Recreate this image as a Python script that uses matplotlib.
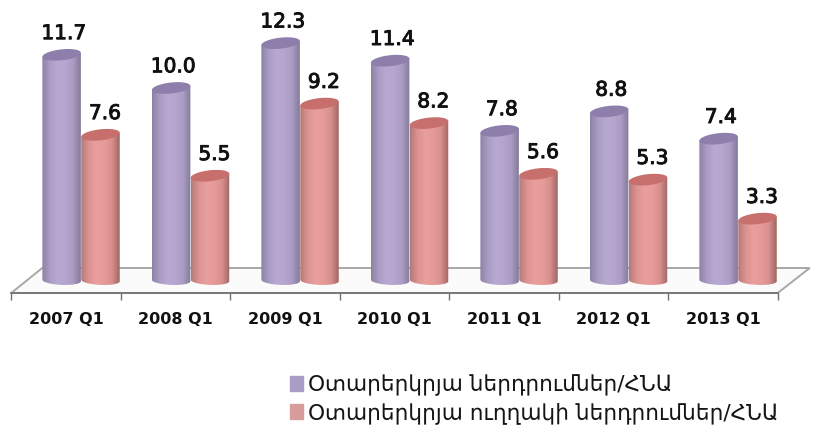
import numpy as np
import matplotlib
matplotlib.use('Agg')
import matplotlib.pyplot as plt
import matplotlib.patheffects as pe
from matplotlib.colors import LinearSegmentedColormap
from matplotlib.patches import Patch, Polygon

plt.rcParams['font.family'] = ['DejaVu Sans']

# data
periods = ['2007 Q1', '2008 Q1', '2009 Q1', '2010 Q1', '2011 Q1', '2012 Q1', '2013 Q1']
total = [11.7, 10.0, 12.3, 11.4, 7.8, 8.8, 7.4]
direct = [7.6, 5.5, 9.2, 8.2, 5.6, 5.3, 3.3]
names = ['Օտարերկրյա ներդրումներ/ՀՆԱ', 'Օտարերկրյա ուղղակի ներդրումներ/ՀՆԱ']

W, H = 817, 428
fig = plt.figure(figsize=(W / 100, H / 100), dpi=100)
ax = fig.add_axes([0, 0, 1, 1])

# one category = 109.5 px, one unit of value = 19.5 px
PX_X = 109.5
PX_Y = 19.5
xlim = (-66 / PX_X, (W - 66) / PX_X)
ylim = ((283 - H) / PX_Y, 283 / PX_Y)

bar_w = 38.5 / PX_X
a = bar_w / 2
b = 5.5 / PX_Y
tilt = 2.0 / PX_Y / a  # the ellipses lean up to the right
base = 2.5 / PX_Y


def cylinder(x, v, colors, top_color, zorder):
    ax.bar(x, v - base, bottom=base, width=bar_w, color='none', zorder=zorder)
    t = np.linspace(0, np.pi, 60)
    # body outline: lower half of the bottom ellipse, then up to the top
    bx = x + a * np.cos(t)
    by = base - 0.8 * b * np.sin(t) - 0.4 * tilt * a * np.cos(t)
    tx = x + a * np.cos(t)
    ty = v + tilt * a * np.cos(t)
    outline = np.column_stack([np.r_[bx[::-1], tx], np.r_[by[::-1], ty]])
    poly = Polygon(outline, closed=True, transform=ax.transData, fc='none', ec='none')
    ax.add_patch(poly)
    cmap = LinearSegmentedColormap.from_list('c', colors)
    grad = np.linspace(0, 1, 128).reshape(1, -1)
    im = ax.imshow(grad, cmap=cmap, aspect='auto', zorder=zorder,
                   extent=[x - a, x + a, base - 2 * b, v + 2 * b])
    im.set_clip_path(poly)
    t = np.linspace(0, 2 * np.pi, 80)
    ax.fill(x + a * np.cos(t), v + b * np.sin(t) + tilt * a * np.cos(t),
            color=top_color, lw=0, zorder=zorder + 0.1)


# floor of the 3d chart
floor_y = -10 / PX_Y
back_y = 15 / PX_Y
floor_x = [-0.5, -0.5 + 31 / PX_X, 6.5 + 32 / PX_X, 6.5]
floor_v = [floor_y, back_y, back_y, floor_y]
ax.fill(floor_x, floor_v, fc='#fbfbfb', ec='#a8a8a8', lw=1.4, zorder=1)

purple = ['#8d82a4', '#aa9cc3', '#b8a9d2', '#b6a6cf', '#ab9cc4', '#84799a']
pink = ['#b47a78', '#dc9391', '#e99f9d', '#e79b99', '#d88f8d', '#9f6563']
bold = [pe.withStroke(linewidth=0.7, foreground='#111111')]

for i in range(len(periods)):
    cylinder(i - 0.04, total[i], purple, '#8d7eab', 3)
    cylinder(i + 0.315, direct[i], pink, '#c66f6c', 4)
    ax.text(i - 0.04 + 0.02, total[i] + 0.6, '%.1f' % total[i], ha='center', va='bottom',
            fontsize=14.5, color='#111111', zorder=6, path_effects=bold)
    ax.text(i + 0.315 + 0.04, direct[i] + 0.6, '%.1f' % direct[i], ha='center', va='bottom',
            fontsize=14.5, color='#111111', zorder=6, path_effects=bold)

ax.set_xlim(xlim)
ax.set_ylim(ylim)

for s in ['top', 'left', 'right']:
    ax.spines[s].set_visible(False)
ax.spines['bottom'].set_position(('data', floor_y))
ax.spines['bottom'].set_bounds(-0.5, 6.5)
ax.spines['bottom'].set_color('#707070')
ax.spines['bottom'].set_linewidth(1.2)
ax.set_yticks([])
ax.set_xticks(range(len(periods)))
ax.set_xticklabels(periods, fontsize=11.5, fontweight='bold', color='#111111')
ax.set_xticks(np.arange(-0.5, 7), minor=True)
ax.tick_params(axis='x', which='major', length=0, pad=14)
ax.tick_params(axis='x', which='minor', length=5, width=1, color='#707070')

handles = [Patch(color='#a99cc6'), Patch(color='#d99c9a')]
ax.legend(handles, names, loc='upper left', bbox_to_anchor=(290 / W, 1 - 374 / H),
          frameon=False, fontsize=15.6, handlelength=0.62, handleheight=0.7,
          handletextpad=0.2, labelspacing=0.28, borderpad=0, borderaxespad=0,
          labelcolor='#151515')

plt.savefig('out.png', dpi=100)
